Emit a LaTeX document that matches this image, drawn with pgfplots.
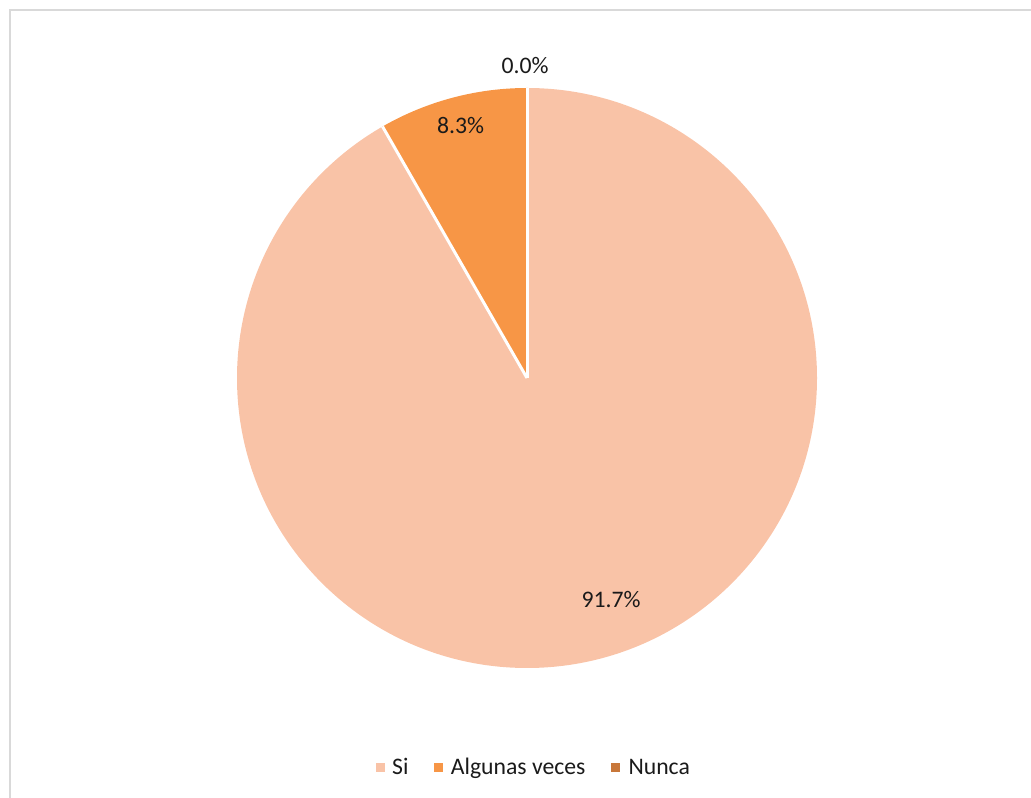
\documentclass[border=0pt]{standalone}
\usepackage{pgfplots}
\pgfplotsset{compat=1.18}
\usepackage{pgfplotstable}
\usepackage{fontspec}
\setmainfont{Carlito}
\definecolor{siC}{HTML}{F9C3A7}
\definecolor{algC}{HTML}{F79646}
\definecolor{nunC}{HTML}{C8773A}
\definecolor{frameC}{HTML}{D9D9D9}
\definecolor{txtC}{HTML}{1A1A1A}
\pgfkeys{/pgf/number format/assume math mode=true}
\pgfplotstableread{
label value lx ly
Si 91.7 611 198.5
Algunas 8.3 460.5 672.5
Nunca 0.0 525 732.5
}\piedata

\begin{document}
\begin{tikzpicture}
\pgfplotstablegetelem{0}{value}\of\piedata \let\vA\pgfplotsretval
\pgfplotstablegetelem{1}{value}\of\piedata \let\vB\pgfplotsretval
\pgfplotstablegetelem{2}{value}\of\piedata \let\vC\pgfplotsretval
\pgfmathsetmacro\aA{90}
\pgfmathsetmacro\aB{90-3.6*\vA}
\pgfmathsetmacro\aC{\aB-3.6*\vB}
\pgfmathsetmacro\pA{\vA}
\pgfmathsetmacro\pB{\vB}
\pgfmathsetmacro\pC{\vC}
\begin{axis}[x=1pt,y=1pt,xmin=0,xmax=1031,ymin=0,ymax=798,
  hide axis, scale only axis, clip=false,
  /pgf/number format/assume math mode=true,
  font=\fontsize{23.7}{28}\selectfont]
\coordinate (bl) at (axis cs:0,0);
\coordinate (tr) at (axis cs:1031,798);
% frame
\draw[frameC, line width=2pt] (axis cs:10,0) -- (axis cs:10,788) -- (axis cs:1031,788);
% slices
\fill[siC] (axis cs:527,420) -- ++(\aA:290pt) arc[start angle=\aA, end angle=\aB, radius=290pt] -- cycle;
\fill[algC] (axis cs:527,420) -- ++(\aB:290pt) arc[start angle=\aB, end angle=\aC, radius=290pt] -- cycle;
\draw[white, line width=3pt] (axis cs:527,420) -- ++(\aA:290pt);
\draw[white, line width=3pt] (axis cs:527,420) -- ++(\aB:290pt);
\draw[white, line width=3pt] (axis cs:527,420) -- ++(\aC:290pt);
% labels
\node[txtC, inner sep=0pt] at (axis cs:611,198.5) {\pgfmathprintnumber[fixed, fixed zerofill, precision=1, assume math mode=true]{\pA}\%};
\node[txtC, inner sep=0pt] at (axis cs:460.5,672.5) {\pgfmathprintnumber[fixed, fixed zerofill, precision=1, assume math mode=true]{\pB}\%};
\node[txtC, inner sep=0pt] at (axis cs:525,732.5) {\pgfmathprintnumber[fixed, fixed zerofill, precision=1, assume math mode=true]{\pC}\%};
% legend
\fill[siC] (axis cs:376,26) rectangle (axis cs:385,35);
\node[txtC, inner sep=0pt, anchor=base west] at (axis cs:392,23.7) {Si};
\fill[algC] (axis cs:434,26) rectangle (axis cs:443,35);
\node[txtC, inner sep=0pt, anchor=base west] at (axis cs:450.7,23.7) {Algunas veces};
\fill[nunC] (axis cs:611,26) rectangle (axis cs:620,35);
\node[txtC, inner sep=0pt, anchor=base west] at (axis cs:628.3,23.7) {Nunca};
\end{axis}
\pgfresetboundingbox
\useasboundingbox (bl) rectangle (tr);
\end{tikzpicture}
\end{document}
